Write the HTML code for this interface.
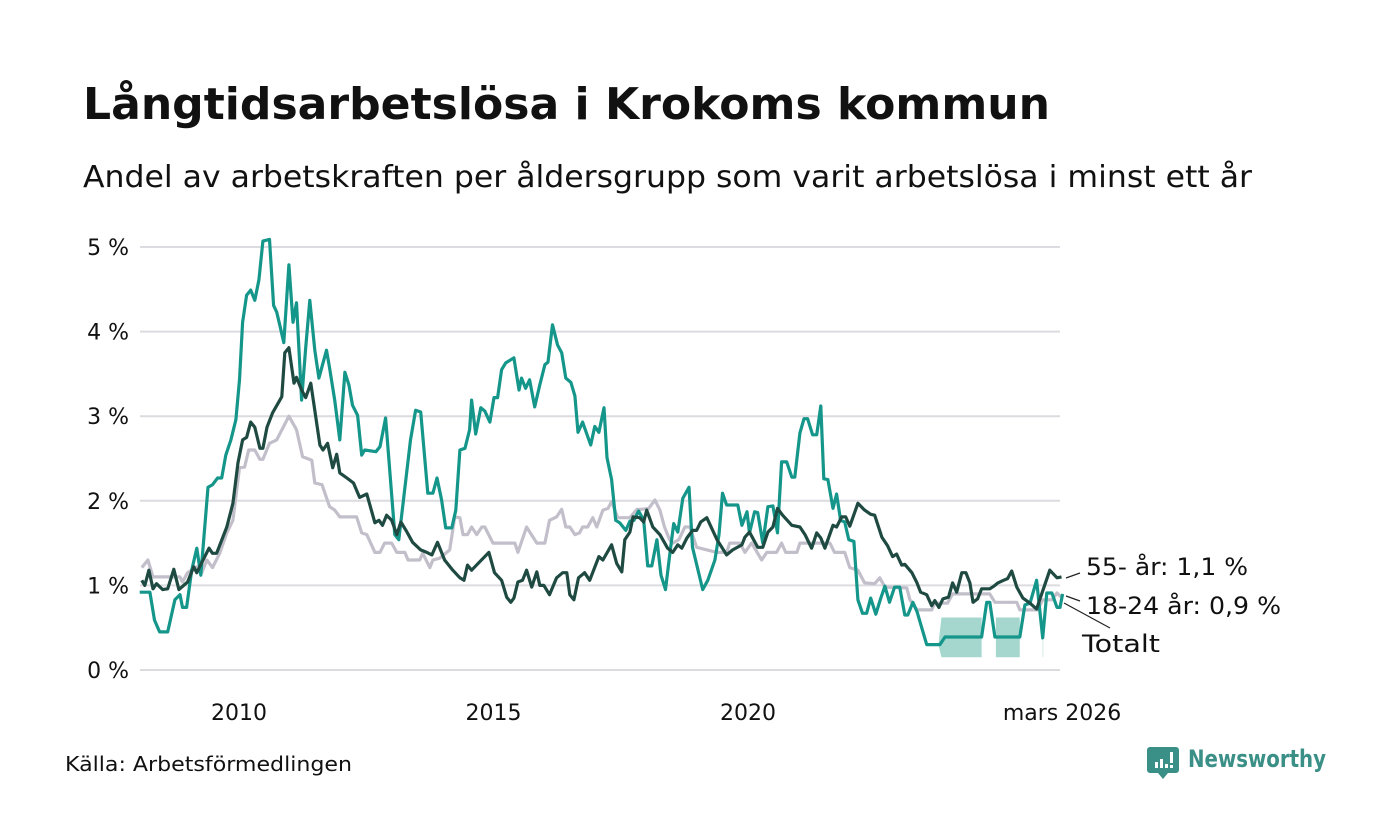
<!DOCTYPE html>
<html><head><meta charset="utf-8"><style>
html,body{margin:0;padding:0;background:#fff;}
svg{display:block;font-family:"DejaVu Sans","Liberation Sans",sans-serif;}
</style></head><body>
<svg id="chart" width="1400" height="840" viewBox="0 0 1400 840" xmlns="http://www.w3.org/2000/svg">
<text x="83" y="119" font-size="44" font-weight="bold" fill="#111" textLength="967" lengthAdjust="spacingAndGlyphs">Långtidsarbetslösa i Krokoms kommun</text>
<text x="83" y="187" font-size="30" fill="#111" textLength="1169" lengthAdjust="spacingAndGlyphs">Andel av arbetskraften per åldersgrupp som varit arbetslösa i minst ett år</text>
<g id="grid"></g>
<g id="yaxis"></g>
<g id="xaxis"></g>
<g id="band"></g>
<g id="series"></g>
<g font-size="24" fill="#111">
<line x1="1066" y1="578" x2="1080" y2="573" stroke="#222" stroke-width="1.2"/>
<line x1="1066" y1="596" x2="1080" y2="601" stroke="#222" stroke-width="1.2"/>
<line x1="1064" y1="603" x2="1110" y2="628" stroke="#222" stroke-width="1.2"/>
<text x="1086" y="575" textLength="162" lengthAdjust="spacingAndGlyphs">55- år: 1,1 %</text>
<text x="1086" y="614" textLength="195" lengthAdjust="spacingAndGlyphs">18-24 år: 0,9 %</text>
<text x="1082" y="652" textLength="78" lengthAdjust="spacingAndGlyphs">Totalt</text>
</g>
<text x="65" y="771" font-size="20" fill="#111" textLength="287" lengthAdjust="spacingAndGlyphs">Källa: Arbetsförmedlingen</text>
<g>
<path d="M1150 747 h26 a3 3 0 0 1 3 3 v20 a3 3 0 0 1 -3 3 h-8 l-5 6 l-5 -6 h-8 a3 3 0 0 1 -3 -3 v-20 a3 3 0 0 1 3 -3z" fill="#3a8f86"/>
<rect x="1155" y="762" width="3" height="6" fill="#fff"/><rect x="1160" y="759" width="3" height="9" fill="#fff"/><rect x="1165" y="764" width="3" height="4" fill="#fff"/><rect x="1170" y="752" width="3" height="11" fill="#fff"/><rect x="1170" y="765" width="3" height="3" fill="#fff"/>
<text x="1188" y="767" font-size="24" font-weight="bold" fill="#3a8f86" textLength="138" lengthAdjust="spacingAndGlyphs">Newsworthy</text>
</g>
</svg>
<script>
const yTicks=[0,1,2,3,4,5];
const yTickLabels=["0 %","1 %","2 %","3 %","4 %","5 %"];
const xTicks=[2010,2015,2020,2026.17];
const xTickLabels=["2010","2015","2020","mars 2026"];
const youthYears=[2008.05,2008.25,2008.34,2008.44,2008.60,2008.74,2008.84,2008.89,2008.97,2009.07,2009.17,2009.25,2009.39,2009.48,2009.58,2009.66,2009.74,2009.84,2009.94,2010.01,2010.07,2010.15,2010.23,2010.31,2010.39,2010.47,2010.60,2010.68,2010.74,2010.80,2010.88,2010.98,2011.06,2011.13,2011.23,2011.31,2011.39,2011.49,2011.57,2011.72,2011.78,2011.88,2011.98,2012.08,2012.16,2012.23,2012.33,2012.41,2012.47,2012.69,2012.77,2012.88,2013.06,2013.14,2013.37,2013.47,2013.57,2013.71,2013.81,2013.89,2013.98,2014.06,2014.18,2014.26,2014.34,2014.44,2014.53,2014.57,2014.65,2014.75,2014.83,2014.93,2015.01,2015.08,2015.16,2015.24,2015.40,2015.50,2015.55,2015.63,2015.71,2015.81,2015.91,2016.01,2016.07,2016.16,2016.26,2016.34,2016.42,2016.52,2016.60,2016.66,2016.75,2016.91,2016.99,2017.07,2017.17,2017.23,2017.32,2017.40,2017.48,2017.60,2017.68,2017.76,2017.85,2017.95,2018.03,2018.11,2018.21,2018.29,2018.38,2018.46,2018.54,2018.62,2018.72,2018.84,2018.91,2018.99,2019.11,2019.21,2019.35,2019.43,2019.50,2019.58,2019.80,2019.88,2019.98,2020.03,2020.13,2020.19,2020.29,2020.39,2020.49,2020.58,2020.66,2020.76,2020.86,2020.92,2021.02,2021.10,2021.17,2021.27,2021.35,2021.43,2021.49,2021.57,2021.67,2021.74,2021.82,2021.90,2021.98,2022.08,2022.16,2022.25,2022.33,2022.41,2022.51,2022.61,2022.69,2022.78,2022.88,2022.98,2023.08,2023.14,2023.24,2023.32,2023.51,2023.77,2023.87,2024.59,2024.69,2024.75,2024.85,2025.34,2025.44,2025.54,2025.67,2025.79,2025.87,2025.97,2026.07,2026.13,2026.18];
const youthValues=[0.92,0.92,0.59,0.45,0.45,0.83,0.89,0.74,0.74,1.18,1.44,1.12,2.16,2.19,2.27,2.27,2.54,2.72,2.96,3.43,4.11,4.43,4.49,4.37,4.61,5.07,5.09,4.31,4.23,4.08,3.87,4.79,4.11,4.34,3.19,3.81,4.37,3.78,3.45,3.78,3.57,3.19,2.72,3.52,3.37,3.13,3.01,2.54,2.60,2.58,2.64,2.98,1.60,1.54,2.72,3.07,3.05,2.09,2.09,2.27,2.01,1.68,1.68,1.89,2.60,2.62,2.84,3.19,2.79,3.10,3.06,2.93,3.22,3.22,3.55,3.63,3.69,3.31,3.45,3.33,3.43,3.11,3.37,3.61,3.64,4.08,3.84,3.75,3.45,3.40,3.24,2.81,2.93,2.66,2.88,2.81,3.10,2.51,2.25,1.77,1.74,1.65,1.76,1.77,1.88,1.77,1.23,1.23,1.54,1.12,0.95,1.35,1.73,1.63,2.03,2.16,1.45,1.25,0.95,1.06,1.30,1.60,2.09,1.95,1.95,1.71,1.87,1.62,1.87,1.86,1.50,1.93,1.94,1.62,2.46,2.46,2.28,2.28,2.80,2.97,2.97,2.78,2.78,3.12,2.26,2.25,1.91,2.08,1.77,1.75,1.54,1.52,0.83,0.67,0.67,0.85,0.66,0.85,0.99,0.80,0.98,0.98,0.65,0.65,0.80,0.69,0.30,0.30,0.39,0.39,0.80,0.80,0.39,0.39,0.77,0.79,1.06,0.38,0.91,0.91,0.74,0.74,0.90];
const oldYears=[2008.09,2008.15,2008.23,2008.31,2008.38,2008.50,2008.60,2008.72,2008.82,2008.99,2009.11,2009.17,2009.41,2009.48,2009.56,2009.76,2009.88,2009.98,2010.07,2010.15,2010.23,2010.31,2010.41,2010.47,2010.55,2010.66,2010.84,2010.90,2010.98,2011.08,2011.13,2011.23,2011.31,2011.41,2011.59,2011.65,2011.74,2011.84,2011.92,2011.98,2012.12,2012.25,2012.37,2012.51,2012.67,2012.75,2012.82,2012.90,2013.00,2013.10,2013.18,2013.30,2013.41,2013.57,2013.69,2013.79,2013.90,2014.04,2014.20,2014.34,2014.42,2014.49,2014.57,2014.73,2014.91,2015.02,2015.16,2015.26,2015.34,2015.40,2015.48,2015.57,2015.65,2015.75,2015.85,2015.91,2015.99,2016.10,2016.24,2016.36,2016.44,2016.50,2016.58,2016.67,2016.79,2016.89,2017.07,2017.15,2017.32,2017.42,2017.52,2017.58,2017.68,2017.74,2017.87,2017.95,2018.01,2018.13,2018.27,2018.42,2018.52,2018.62,2018.70,2018.80,2018.91,2018.99,2019.07,2019.19,2019.39,2019.58,2019.70,2019.88,2019.94,2020.03,2020.19,2020.29,2020.39,2020.49,2020.58,2020.68,2020.86,2021.02,2021.12,2021.25,2021.35,2021.43,2021.51,2021.67,2021.74,2021.84,2021.92,2022.00,2022.16,2022.29,2022.41,2022.49,2022.63,2022.74,2022.84,2022.92,2023.02,2023.08,2023.22,2023.32,2023.39,2023.51,2023.61,2023.67,2023.75,2023.83,2023.94,2024.02,2024.10,2024.20,2024.28,2024.36,2024.42,2024.51,2024.59,2024.75,2024.83,2024.91,2025.02,2025.10,2025.18,2025.28,2025.40,2025.54,2025.67,2025.77,2025.93,2026.07,2026.16];
const oldValues=[1.06,1.00,1.18,0.96,1.02,0.95,0.96,1.19,0.95,1.04,1.22,1.15,1.44,1.38,1.38,1.69,1.97,2.45,2.72,2.75,2.93,2.87,2.62,2.62,2.87,3.04,3.23,3.75,3.81,3.39,3.46,3.31,3.22,3.39,2.66,2.60,2.68,2.39,2.55,2.33,2.27,2.21,2.04,2.08,1.74,1.77,1.71,1.83,1.77,1.60,1.75,1.63,1.51,1.42,1.39,1.36,1.51,1.30,1.18,1.09,1.06,1.24,1.18,1.28,1.39,1.15,1.06,0.86,0.80,0.85,1.04,1.06,1.18,0.98,1.16,1.00,1.00,0.89,1.09,1.15,1.15,0.89,0.83,1.09,1.15,1.06,1.34,1.30,1.48,1.26,1.16,1.54,1.63,1.81,1.80,1.75,1.89,1.69,1.60,1.44,1.39,1.48,1.44,1.56,1.65,1.65,1.75,1.80,1.54,1.36,1.42,1.48,1.57,1.63,1.45,1.45,1.63,1.69,1.91,1.83,1.71,1.69,1.60,1.44,1.62,1.56,1.44,1.71,1.69,1.81,1.81,1.70,1.97,1.89,1.84,1.83,1.57,1.47,1.34,1.37,1.24,1.25,1.15,1.03,0.92,0.89,0.76,0.82,0.74,0.84,0.86,1.03,0.92,1.15,1.15,1.03,0.80,0.84,0.96,0.96,0.99,1.03,1.06,1.08,1.17,0.98,0.85,0.79,0.72,0.90,1.18,1.09,1.1];
const totalYears=[2008.09,2008.21,2008.31,2008.84,2008.89,2008.99,2009.17,2009.27,2009.37,2009.48,2009.62,2009.76,2009.88,2010.01,2010.11,2010.19,2010.31,2010.41,2010.47,2010.60,2010.74,2010.98,2011.13,2011.25,2011.43,2011.49,2011.63,2011.78,2011.88,2011.98,2012.31,2012.41,2012.51,2012.67,2012.77,2012.86,2013.00,2013.10,2013.26,2013.32,2013.55,2013.61,2013.75,2013.81,2013.94,2014.14,2014.24,2014.34,2014.40,2014.49,2014.57,2014.67,2014.77,2014.83,2014.99,2015.42,2015.48,2015.65,2015.85,2016.01,2016.10,2016.24,2016.34,2016.42,2016.50,2016.60,2016.69,2016.75,2016.85,2016.95,2017.03,2017.15,2017.25,2017.32,2017.44,2017.68,2017.82,2017.91,2018.05,2018.17,2018.27,2018.36,2018.46,2018.52,2018.64,2018.76,2018.86,2018.99,2019.39,2019.58,2019.64,2019.84,2019.94,2020.07,2020.27,2020.37,2020.56,2020.66,2020.74,2020.96,2021.02,2021.61,2021.70,2021.90,2022.00,2022.16,2022.29,2022.49,2022.59,2022.69,2023.12,2023.18,2023.32,2023.61,2023.67,2023.92,2024.02,2024.75,2024.85,2025.28,2025.34,2025.69,2025.79,2025.97,2026.07,2026.16];
const totalValues=[1.21,1.30,1.10,1.10,1.04,1.15,1.22,1.15,1.30,1.21,1.38,1.62,1.77,2.39,2.40,2.60,2.60,2.49,2.49,2.68,2.72,3.00,2.84,2.52,2.48,2.21,2.19,1.93,1.89,1.81,1.81,1.62,1.60,1.39,1.39,1.50,1.50,1.39,1.39,1.30,1.30,1.38,1.21,1.30,1.32,1.42,1.81,1.80,1.60,1.60,1.69,1.60,1.69,1.69,1.50,1.50,1.39,1.69,1.50,1.50,1.77,1.81,1.90,1.69,1.69,1.60,1.62,1.69,1.69,1.80,1.69,1.89,1.91,1.99,1.80,1.80,1.90,1.90,1.91,2.01,1.89,1.69,1.54,1.50,1.54,1.69,1.69,1.45,1.39,1.39,1.50,1.50,1.39,1.50,1.30,1.39,1.39,1.50,1.39,1.39,1.50,1.50,1.39,1.39,1.21,1.18,1.03,1.02,1.09,0.98,0.97,0.83,0.71,0.71,0.79,0.79,0.90,0.90,0.80,0.80,0.71,0.71,0.83,0.83,0.91,0.86];
const bandYears=[[2023.74,2023.80,2024.59],[2024.87,2025.34],[2025.79,2025.80]];
const bandLo=[[0.30,0.15,0.15],[0.15,0.15],[0.15,0.15]];
const bandHi=[[0.30,0.62,0.62],[0.62,0.62],[0.38,0.38]];

const NS='http://www.w3.org/2000/svg';
const X0=140,X1=1060,Y0=670,PXY=84.6;
const xs=y=>239+(y-2010)*50.9;
const ys=v=>Y0-v*PXY;
function mk(tag,attrs,parent){const e=document.createElementNS(NS,tag);for(const k in attrs)e.setAttribute(k,attrs[k]);parent.appendChild(e);return e;}
const grid=document.getElementById('grid'),yax=document.getElementById('yaxis'),xax=document.getElementById('xaxis');
yTicks.forEach((t,i)=>{
  const l=mk('line',{x1:X0,x2:X1,y1:ys(t),y2:ys(t),stroke:'#dcdce0','stroke-width':2},grid);
  
  
  const tx=mk('text',{x:129,y:ys(t)+8,'text-anchor':'end','font-size':22,fill:'#111'},yax);
  
  
  tx.textContent=yTickLabels[i];
});
xTicks.forEach((t,i)=>{
  const tx=mk('text',{x:xs(t),y:720,'text-anchor':'middle','font-size':22,fill:'#111'},xax);
  
  
  tx.textContent=xTickLabels[i];
});
const band=document.getElementById('band');
bandYears.forEach((seg,j)=>{
  let pts=seg.map((y,k)=>xs(y)+','+ys(bandHi[j][k]));
  pts=pts.concat(seg.map((y,k)=>xs(y)+','+ys(bandLo[j][k])).reverse());
  const p=mk('polygon',{points:pts.join(' '),fill:'#a6d7cf'},band);
  
  
});
const ser=document.getElementById('series');
function line(years,vals,color,name){
  const d=years.map((y,i)=>(i?'L':'M')+xs(y).toFixed(1)+' '+ys(vals[i]).toFixed(1)).join(' ');
  const p=mk('path',{d:d,fill:'none',stroke:color,'stroke-width':3.2,'stroke-linejoin':'round'},ser);
  
  
}
line(totalYears,totalValues,'#c2bfcb','line-totalt');
line(youthYears,youthValues,'#15968a','line-18-24');
line(oldYears,oldValues,'#1f4a42','line-55');
</script>
</body></html>
